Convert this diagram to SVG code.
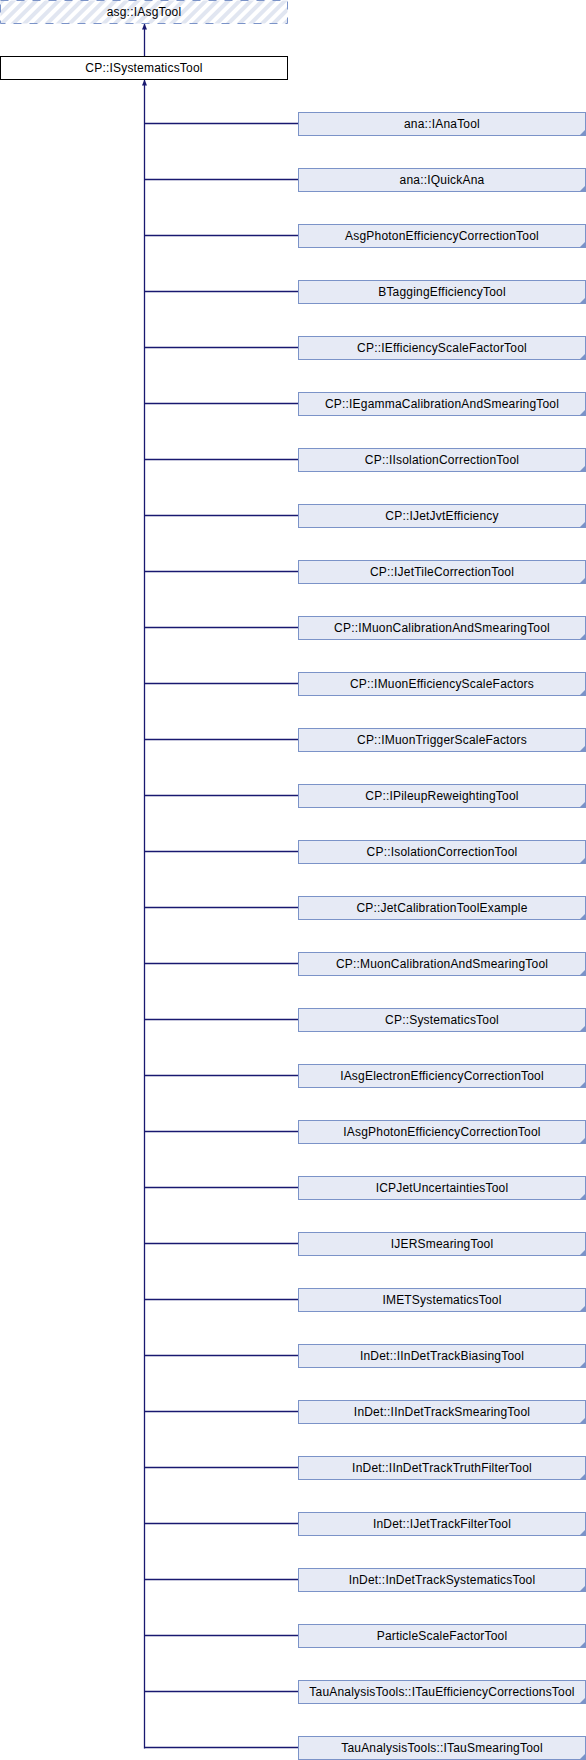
<svg xmlns="http://www.w3.org/2000/svg" width="586" height="1760" viewBox="0 0 586 1760">
<style>
text{font-family:"Liberation Sans",Arial,sans-serif;font-size:12px;letter-spacing:0.2px;fill:#000;text-anchor:middle}
.child rect{fill:#e6eaf5;stroke:#7b93c8;stroke-width:1}
.child polygon{fill:#7b93c8}
.edge{stroke:#191970;stroke-width:1.3;fill:none}
</style>
<defs>
<pattern id="hatch" width="8" height="8" patternUnits="userSpaceOnUse" patternTransform="rotate(45)">
<rect width="8" height="8" fill="#ffffff"/>
<rect width="4" height="8" fill="#e1e6f1"/>
</pattern>
<marker id="arr" markerWidth="6" markerHeight="6" refX="5.5" refY="3" orient="auto" markerUnits="userSpaceOnUse">
<path d="M0,0.5 L6,3 L0,5.5 Z" fill="#191970"/>
</marker>
</defs>
<g id="n_asg_IAsgTool">
<rect x="0.5" y="0.5" width="287" height="23" fill="url(#hatch)" stroke="#7b93c8" stroke-dasharray="8,8"/>
<text x="144" y="16">asg::IAsgTool</text>
</g>
<g id="n_CP_ISystematicsTool">
<rect x="0.5" y="56.5" width="287" height="23" fill="#ffffff" stroke="#000"/>
<text x="144" y="72">CP::ISystematicsTool</text>
</g>
<g id="connectors">
<path class="edge" d="M144.5,56 V24" marker-end="url(#arr)"/>
<path class="edge" d="M144.5,1748.5 V80" marker-end="url(#arr)"/>
<path class="edge" d="M144.5,123.5 H298 M144.5,179.5 H298 M144.5,235.5 H298 M144.5,291.5 H298 M144.5,347.5 H298 M144.5,403.5 H298 M144.5,459.5 H298 M144.5,515.5 H298 M144.5,571.5 H298 M144.5,627.5 H298 M144.5,683.5 H298 M144.5,739.5 H298 M144.5,795.5 H298 M144.5,851.5 H298 M144.5,907.5 H298 M144.5,963.5 H298 M144.5,1019.5 H298 M144.5,1075.5 H298 M144.5,1131.5 H298 M144.5,1187.5 H298 M144.5,1243.5 H298 M144.5,1299.5 H298 M144.5,1355.5 H298 M144.5,1411.5 H298 M144.5,1467.5 H298 M144.5,1523.5 H298 M144.5,1579.5 H298 M144.5,1635.5 H298 M144.5,1691.5 H298 M144.5,1747.5 H298"/>
</g>
<g id="n0" class="child" transform="translate(0,0)"><rect x="298.5" y="112.5" width="287" height="23"/><polygon points="585,130 585,135 580,135"/><text x="442" y="128">ana::IAnaTool</text></g>
<g id="n1" class="child" transform="translate(0,56)"><rect x="298.5" y="112.5" width="287" height="23"/><polygon points="585,130 585,135 580,135"/><text x="442" y="128">ana::IQuickAna</text></g>
<g id="n2" class="child" transform="translate(0,112)"><rect x="298.5" y="112.5" width="287" height="23"/><polygon points="585,130 585,135 580,135"/><text x="442" y="128">AsgPhotonEfficiencyCorrectionTool</text></g>
<g id="n3" class="child" transform="translate(0,168)"><rect x="298.5" y="112.5" width="287" height="23"/><polygon points="585,130 585,135 580,135"/><text x="442" y="128">BTaggingEfficiencyTool</text></g>
<g id="n4" class="child" transform="translate(0,224)"><rect x="298.5" y="112.5" width="287" height="23"/><polygon points="585,130 585,135 580,135"/><text x="442" y="128">CP::IEfficiencyScaleFactorTool</text></g>
<g id="n5" class="child" transform="translate(0,280)"><rect x="298.5" y="112.5" width="287" height="23"/><polygon points="585,130 585,135 580,135"/><text x="442" y="128">CP::IEgammaCalibrationAndSmearingTool</text></g>
<g id="n6" class="child" transform="translate(0,336)"><rect x="298.5" y="112.5" width="287" height="23"/><polygon points="585,130 585,135 580,135"/><text x="442" y="128">CP::IIsolationCorrectionTool</text></g>
<g id="n7" class="child" transform="translate(0,392)"><rect x="298.5" y="112.5" width="287" height="23"/><polygon points="585,130 585,135 580,135"/><text x="442" y="128">CP::IJetJvtEfficiency</text></g>
<g id="n8" class="child" transform="translate(0,448)"><rect x="298.5" y="112.5" width="287" height="23"/><polygon points="585,130 585,135 580,135"/><text x="442" y="128">CP::IJetTileCorrectionTool</text></g>
<g id="n9" class="child" transform="translate(0,504)"><rect x="298.5" y="112.5" width="287" height="23"/><polygon points="585,130 585,135 580,135"/><text x="442" y="128">CP::IMuonCalibrationAndSmearingTool</text></g>
<g id="n10" class="child" transform="translate(0,560)"><rect x="298.5" y="112.5" width="287" height="23"/><polygon points="585,130 585,135 580,135"/><text x="442" y="128">CP::IMuonEfficiencyScaleFactors</text></g>
<g id="n11" class="child" transform="translate(0,616)"><rect x="298.5" y="112.5" width="287" height="23"/><polygon points="585,130 585,135 580,135"/><text x="442" y="128">CP::IMuonTriggerScaleFactors</text></g>
<g id="n12" class="child" transform="translate(0,672)"><rect x="298.5" y="112.5" width="287" height="23"/><polygon points="585,130 585,135 580,135"/><text x="442" y="128">CP::IPileupReweightingTool</text></g>
<g id="n13" class="child" transform="translate(0,728)"><rect x="298.5" y="112.5" width="287" height="23"/><polygon points="585,130 585,135 580,135"/><text x="442" y="128">CP::IsolationCorrectionTool</text></g>
<g id="n14" class="child" transform="translate(0,784)"><rect x="298.5" y="112.5" width="287" height="23"/><polygon points="585,130 585,135 580,135"/><text x="442" y="128">CP::JetCalibrationToolExample</text></g>
<g id="n15" class="child" transform="translate(0,840)"><rect x="298.5" y="112.5" width="287" height="23"/><polygon points="585,130 585,135 580,135"/><text x="442" y="128">CP::MuonCalibrationAndSmearingTool</text></g>
<g id="n16" class="child" transform="translate(0,896)"><rect x="298.5" y="112.5" width="287" height="23"/><polygon points="585,130 585,135 580,135"/><text x="442" y="128">CP::SystematicsTool</text></g>
<g id="n17" class="child" transform="translate(0,952)"><rect x="298.5" y="112.5" width="287" height="23"/><polygon points="585,130 585,135 580,135"/><text x="442" y="128">IAsgElectronEfficiencyCorrectionTool</text></g>
<g id="n18" class="child" transform="translate(0,1008)"><rect x="298.5" y="112.5" width="287" height="23"/><polygon points="585,130 585,135 580,135"/><text x="442" y="128">IAsgPhotonEfficiencyCorrectionTool</text></g>
<g id="n19" class="child" transform="translate(0,1064)"><rect x="298.5" y="112.5" width="287" height="23"/><polygon points="585,130 585,135 580,135"/><text x="442" y="128">ICPJetUncertaintiesTool</text></g>
<g id="n20" class="child" transform="translate(0,1120)"><rect x="298.5" y="112.5" width="287" height="23"/><polygon points="585,130 585,135 580,135"/><text x="442" y="128">IJERSmearingTool</text></g>
<g id="n21" class="child" transform="translate(0,1176)"><rect x="298.5" y="112.5" width="287" height="23"/><polygon points="585,130 585,135 580,135"/><text x="442" y="128">IMETSystematicsTool</text></g>
<g id="n22" class="child" transform="translate(0,1232)"><rect x="298.5" y="112.5" width="287" height="23"/><polygon points="585,130 585,135 580,135"/><text x="442" y="128">InDet::IInDetTrackBiasingTool</text></g>
<g id="n23" class="child" transform="translate(0,1288)"><rect x="298.5" y="112.5" width="287" height="23"/><polygon points="585,130 585,135 580,135"/><text x="442" y="128">InDet::IInDetTrackSmearingTool</text></g>
<g id="n24" class="child" transform="translate(0,1344)"><rect x="298.5" y="112.5" width="287" height="23"/><polygon points="585,130 585,135 580,135"/><text x="442" y="128">InDet::IInDetTrackTruthFilterTool</text></g>
<g id="n25" class="child" transform="translate(0,1400)"><rect x="298.5" y="112.5" width="287" height="23"/><polygon points="585,130 585,135 580,135"/><text x="442" y="128">InDet::IJetTrackFilterTool</text></g>
<g id="n26" class="child" transform="translate(0,1456)"><rect x="298.5" y="112.5" width="287" height="23"/><polygon points="585,130 585,135 580,135"/><text x="442" y="128">InDet::InDetTrackSystematicsTool</text></g>
<g id="n27" class="child" transform="translate(0,1512)"><rect x="298.5" y="112.5" width="287" height="23"/><polygon points="585,130 585,135 580,135"/><text x="442" y="128">ParticleScaleFactorTool</text></g>
<g id="n28" class="child" transform="translate(0,1568)"><rect x="298.5" y="112.5" width="287" height="23"/><polygon points="585,130 585,135 580,135"/><text x="442" y="128">TauAnalysisTools::ITauEfficiencyCorrectionsTool</text></g>
<g id="n29" class="child" transform="translate(0,1624)"><rect x="298.5" y="112.5" width="287" height="23"/><polygon points="585,130 585,135 580,135"/><text x="442" y="128">TauAnalysisTools::ITauSmearingTool</text></g>
</svg>
